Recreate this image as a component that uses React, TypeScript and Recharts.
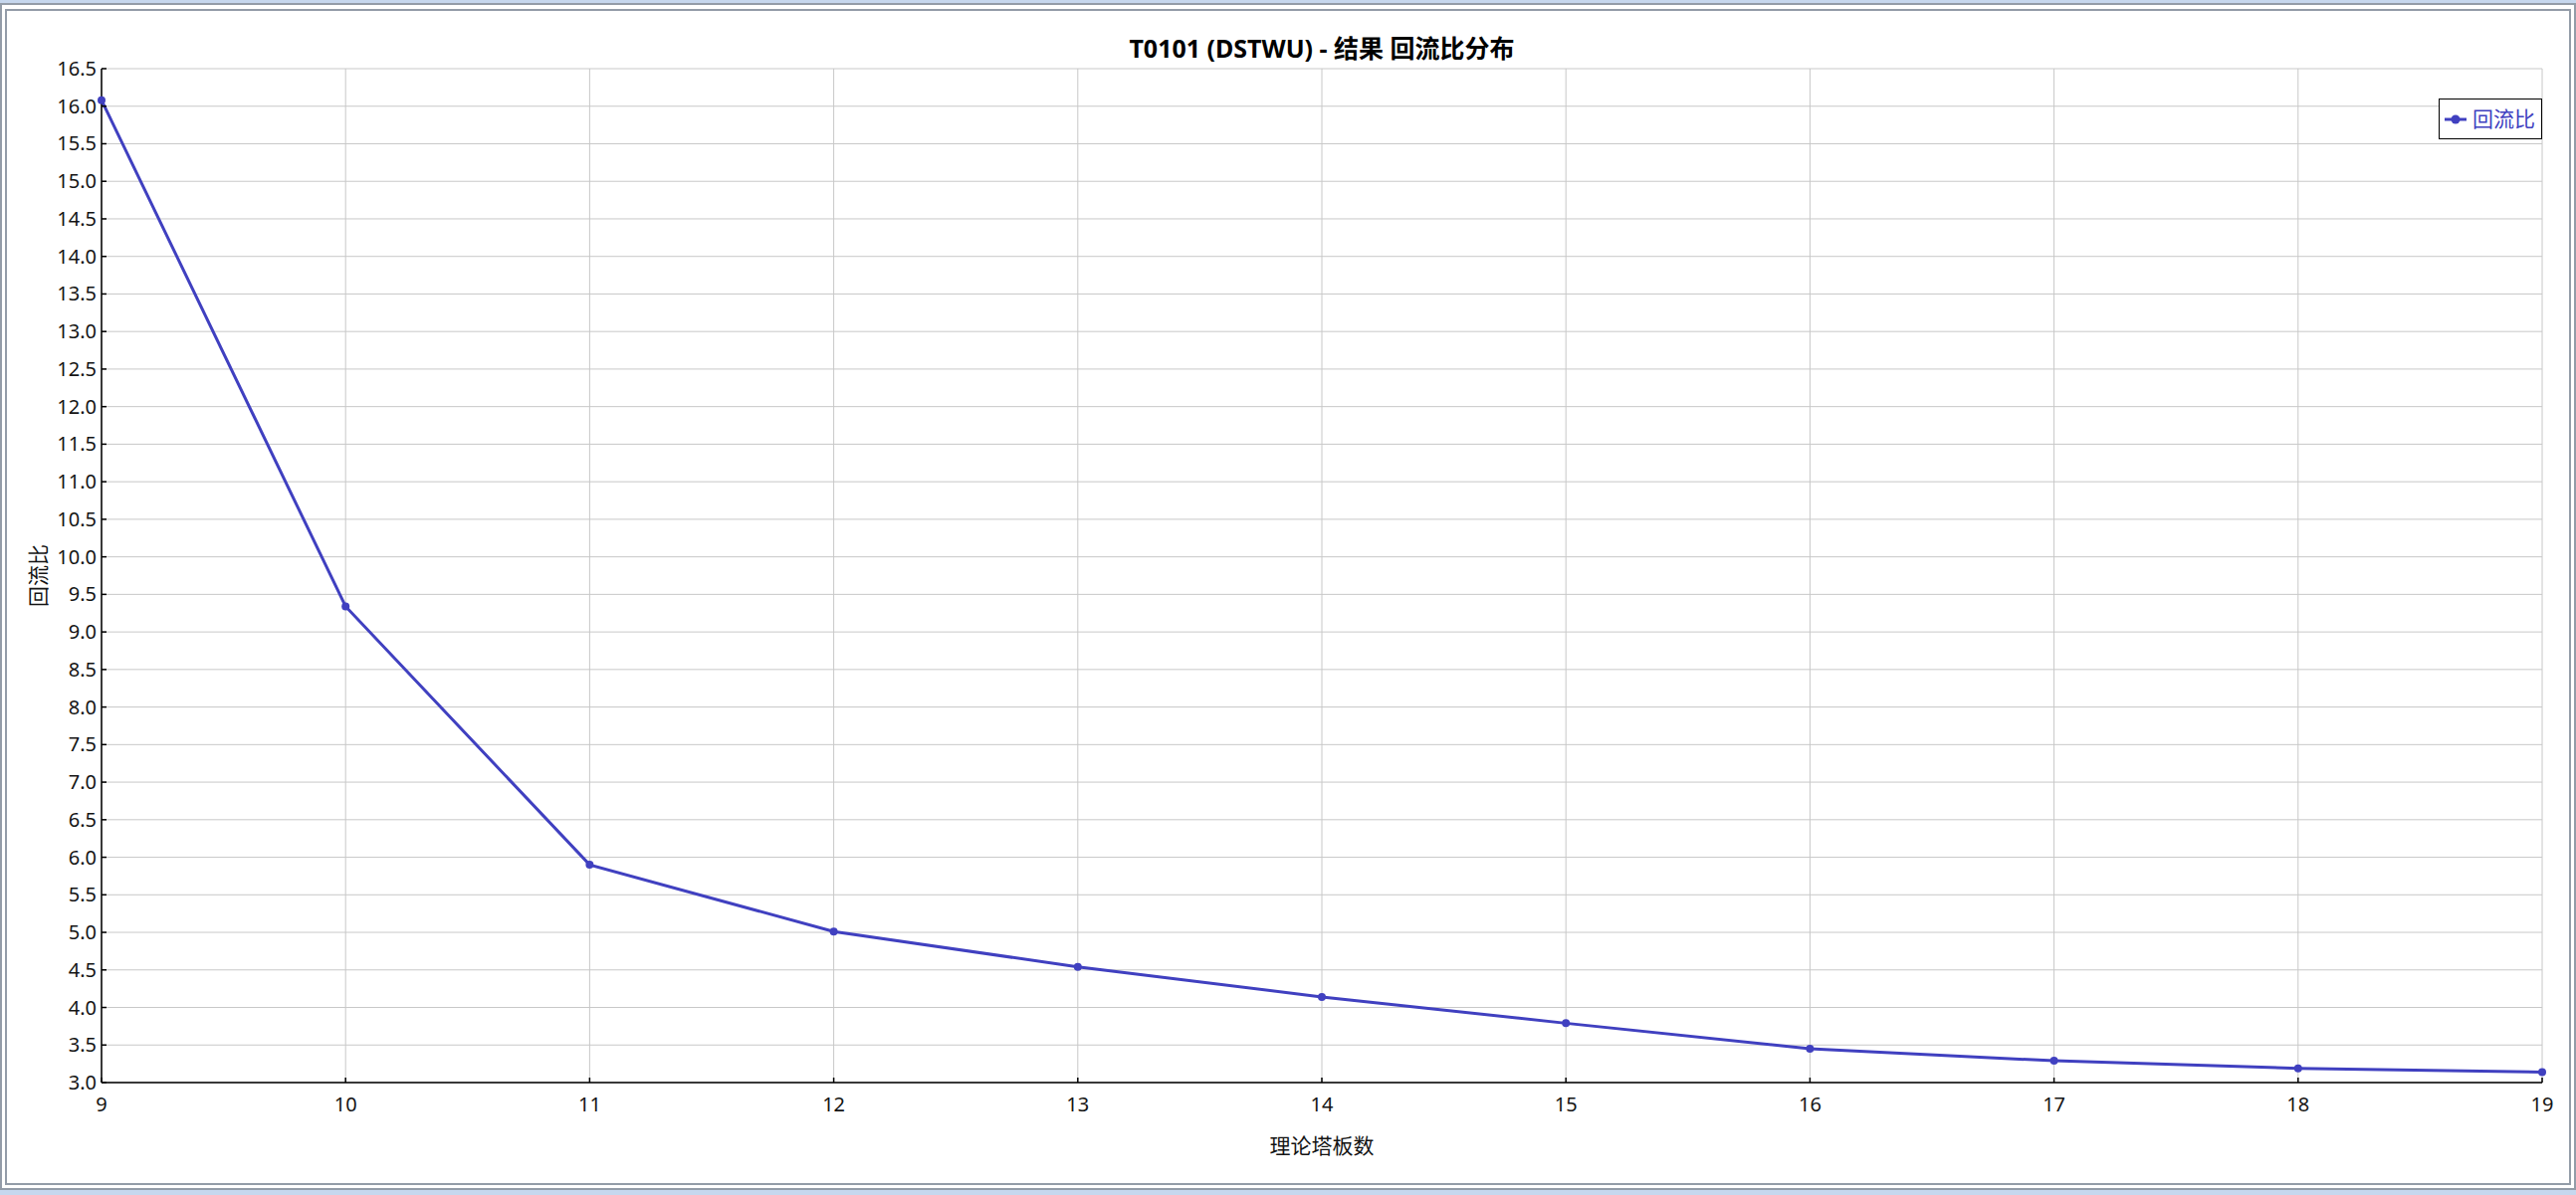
import React from 'react';
import { LineChart, Line, XAxis, YAxis, CartesianGrid, Legend, Label } from 'recharts';

const plates = [9, 10, 11, 12, 13, 14, 15, 16, 17, 18, 19];
const refluxRatio = [16.08, 9.34, 5.9, 5.01, 4.54, 4.14, 3.79, 3.45, 3.29, 3.19, 3.14];
const xTicks = [9, 10, 11, 12, 13, 14, 15, 16, 17, 18, 19];
const yTicks = [3.0, 3.5, 4.0, 4.5, 5.0, 5.5, 6.0, 6.5, 7.0, 7.5, 8.0, 8.5, 9.0, 9.5, 10.0, 10.5, 11.0, 11.5, 12.0, 12.5, 13.0, 13.5, 14.0, 14.5, 15.0, 15.5, 16.0, 16.5];
const seriesName = '回流比';
const chartTitle = 'T0101 (DSTWU) - 结果 回流比分布';
const xAxisTitle = '理论塔板数';
const yAxisTitle = '回流比';

const data = plates.map((p, i) => ({ plates: p, reflux: refluxRatio[i] }));

const FONT = "'Noto Sans', 'Noto Sans CJK SC', sans-serif";
const LINE_COLOR = '#4040c0';
const TEXT_COLOR = '#141414';

const W = 2588;
const H = 1201;

const YTick = (props: any) => {
  const { x, y, payload } = props;
  return (
    <g>
      <line x1={x + 5} x2={x + 10} y1={y} y2={y} stroke="#000" strokeWidth={1.5} />
      <text x={x} y={y} dy={7} textAnchor="end" fontSize={20} fill={TEXT_COLOR} fontFamily={FONT}>
        {Number(payload.value).toFixed(1)}
      </text>
    </g>
  );
};

const XTick = (props: any) => {
  const { x, y, payload } = props;
  return (
    <g>
      <line x1={x} x2={x} y1={y} y2={y - 5} stroke="#000" strokeWidth={1.5} />
      <text x={x} y={y + 29} textAnchor="middle" fontSize={20} fill={TEXT_COLOR} fontFamily={FONT}>
        {payload.value}
      </text>
    </g>
  );
};

const LegendContent = () => (
  <div
    style={{
      border: '1.5px solid #000',
      background: '#fff',
      display: 'flex',
      alignItems: 'center',
      padding: '4px 6px 4px 5px',
      height: 31,
      boxSizing: 'content-box',
      fontFamily: FONT,
    }}
  >
    <svg width={22} height={12} style={{ marginRight: 6 }}>
      <line x1={0} x2={22} y1={6} y2={6} stroke={LINE_COLOR} strokeWidth={3} />
      <circle cx={11} cy={6} r={4.5} fill={LINE_COLOR} />
    </svg>
    <span style={{ color: LINE_COLOR, fontSize: 21, lineHeight: '31px' }}>{seriesName}</span>
  </div>
);

export default function App() {
  return (
    <div style={{ position: 'absolute', left: 0, top: 0, width: W, height: H, background: '#c6d7ee', overflow: 'hidden' }}>
      <div
        style={{
          position: 'absolute',
          left: 0,
          top: 3,
          width: W,
          height: 1193,
          boxSizing: 'border-box',
          border: '2px solid #939ca8',
          background: '#fff',
        }}
      />
      <div
        style={{
          position: 'absolute',
          left: 5,
          top: 9,
          width: 2578,
          height: 1182,
          boxSizing: 'border-box',
          border: '2px solid #939ca8',
          background: '#fff',
        }}
      />
      <div
        style={{
          position: 'absolute',
          left: 102,
          width: 2452,
          top: 32,
          textAlign: 'center',
          fontFamily: FONT,
          fontWeight: 'bold',
          fontSize: 25,
          lineHeight: '32px',
          color: '#000',
        }}
      >
        {chartTitle}
      </div>
      <div style={{ position: 'absolute', left: 0, top: 0 }}>
        <LineChart width={W} height={H} data={data} margin={{ top: 69, right: 34, bottom: 0, left: 0 }}>
          <CartesianGrid stroke="#c8c8c8" strokeWidth={1} />
          <XAxis
            dataKey="plates"
            type="number"
            domain={[9, 19]}
            ticks={xTicks}
            tick={<XTick />}
            tickLine={false}
            tickSize={0}
            tickMargin={0}
            height={113}
            axisLine={{ stroke: '#000', strokeWidth: 1.5 }}
            interval={0}
          >
            <Label
              content={(props: any) => {
                const vb = props.viewBox;
                return (
                  <text x={vb.x + vb.width / 2} y={vb.y + 71} textAnchor="middle" fontSize={21} fill={TEXT_COLOR} fontFamily={FONT}>
                    {xAxisTitle}
                  </text>
                );
              }}
            />
          </XAxis>
          <YAxis
            type="number"
            domain={[3, 16.5]}
            ticks={yTicks}
            tick={<YTick />}
            tickLine={false}
            tickSize={0}
            tickMargin={5}
            width={102}
            axisLine={{ stroke: '#000', strokeWidth: 1.5 }}
            interval={0}
            allowDataOverflow
          >
            <Label
              content={(props: any) => {
                const vb = props.viewBox;
                const cx = vb.x + 39;
                const cy = vb.y + vb.height / 2;
                return (
                  <text
                    x={cx}
                    y={cy}
                    dy={7}
                    textAnchor="middle"
                    fontSize={21}
                    fill={TEXT_COLOR}
                    fontFamily={FONT}
                    transform={`rotate(-90 ${cx} ${cy})`}
                  >
                    {yAxisTitle}
                  </text>
                );
              }}
            />
          </YAxis>
          <Legend
            layout="vertical"
            align="center"
            verticalAlign="middle"
            content={<LegendContent />}
            wrapperStyle={{ position: 'absolute', top: 99, right: 34, left: 'auto', bottom: 'auto', width: 'auto' }}
          />
          <Line
            type="linear"
            dataKey="reflux"
            name={seriesName}
            stroke={LINE_COLOR}
            strokeWidth={3}
            dot={{ r: 4, fill: LINE_COLOR, stroke: LINE_COLOR, strokeWidth: 0 }}
            activeDot={false}
            isAnimationActive={false}
          />
        </LineChart>
      </div>
    </div>
  );
}
